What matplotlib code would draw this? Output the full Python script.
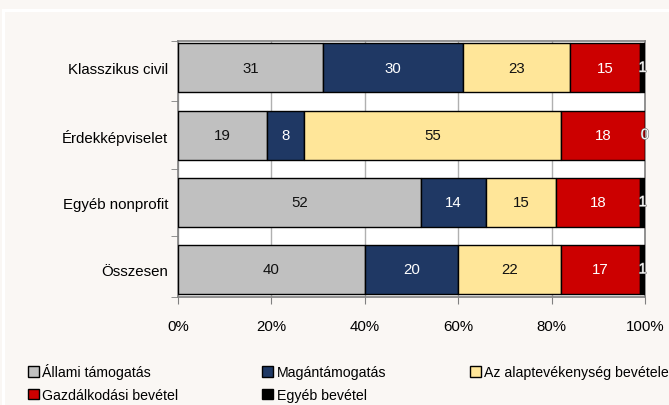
import matplotlib
matplotlib.use("Agg")
import matplotlib.pyplot as plt
from matplotlib.patches import Patch, Rectangle
import matplotlib.patheffects as pe
import numpy as np

plt.rcParams['font.family'] = ['Liberation Sans', 'DejaVu Sans']

categories = ["Klasszikus civil", "Érdekképviselet", "Egyéb nonprofit", "Összesen"]
series_names = ["Állami támogatás", "Magántámogatás", "Az alaptevékenység bevétele",
                "Gazdálkodási bevétel", "Egyéb bevétel"]
allami = [31, 19, 52, 40]
magan = [30, 8, 14, 20]
alap = [23, 55, 15, 22]
gazd = [15, 18, 18, 17]
egyeb = [1, 0, 1, 1]
series_values = [allami, magan, alap, gazd, egyeb]
colors = ["#C0C0C0", "#1F3864", "#FFE699", "#CC0000", "#000000"]
label_colors = ["#111111", "white", "#111111", "white", "white"]
xticks = [0, 20, 40, 60, 80, 100]
xticklabels = ["0%", "20%", "40%", "60%", "80%", "100%"]

FS = 10.8
bg = "#FAF7F4"
fig = plt.figure(figsize=(6.69, 4.06), dpi=100, facecolor=bg)
fig.patches.append(Rectangle((3/669, -0.1), 1.2, 1 - 11/406 + 0.1, transform=fig.transFigure,
                             fill=False, edgecolor="white", linewidth=2.2, zorder=0))
ax = fig.add_axes([178/669, 1 - 298/406, (645 - 178)/669, (298 - 42)/406])
ax.set_facecolor("white")

y = np.arange(len(categories))
left = np.zeros(len(categories))
for vals, col, lc in zip(series_values, colors, label_colors):
    ax.barh(y, vals, left=left, height=0.73, color=col, edgecolor="black",
            linewidth=1.0, zorder=3)
    for yi, (l, v) in enumerate(zip(left, vals)):
        t = ax.text(l + v / 2, yi, str(v), ha="center", va="center", color=lc,
                    fontsize=FS, zorder=5)
        if col == "#000000":
            t.set_path_effects([pe.withStroke(linewidth=0.8, foreground="#666666")])
    left = left + np.array(vals)

ax.set_ylim(3.41, -0.40)
ax.set_xlim(0, 100)
ax.set_xticks(xticks)
ax.set_xticklabels(xticklabels, fontsize=FS)
ax.set_yticks(y)
ax.set_yticklabels(categories, fontsize=FS)
ax.set_yticks([0.5, 1.5, 2.5, -0.40, 3.41], minor=True)
ax.tick_params(axis="y", which="major", length=0, pad=7)
ax.tick_params(axis="y", which="minor", length=5, color="#808080", direction="out")
ax.tick_params(axis="x", length=5, color="#808080", direction="out", pad=11)
ax.grid(axis="x", color="#B0B0B0", linewidth=1.0, zorder=0)
for s in ax.spines.values():
    s.set_color("#808080")
    s.set_linewidth(1.2)

order = [0, 3, 1, 4, 2]
handles = [Patch(facecolor=colors[i], edgecolor="black", linewidth=1.0) for i in order]
labels = [series_names[i] for i in order]
fig.legend(handles, labels, ncol=3, mode="expand",
           bbox_to_anchor=(28/669, 1 - 403/406, (669 - 28)/669, 46/406), loc="lower left",
           frameon=False, fontsize=10.2, handlelength=0.75, handleheight=0.75,
           handletextpad=0.25, labelspacing=0.6, borderpad=0, borderaxespad=0)

fig.savefig("out.png", dpi=100, facecolor=bg)
